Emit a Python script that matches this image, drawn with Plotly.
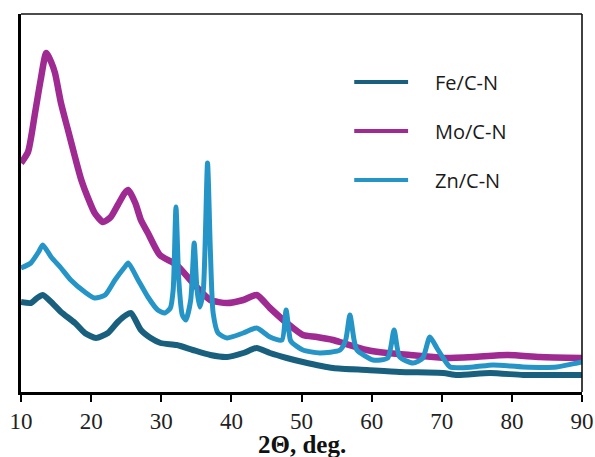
import plotly.graph_objects as go

# Data (2Theta in degrees, intensity in arbitrary units)
fe_x = [10, 11.4, 12.3, 13.1, 14.3, 15.7, 17.7, 19.1, 20.7, 22.4, 23.8, 25.0, 25.7, 27.1, 28.5, 29.9,
        32.2, 34.5, 37, 39.4, 41.7, 43.6, 45.5, 47.9, 50.2, 54.5, 59.3, 64, 70.2, 72.2, 76.9, 81.6, 86, 90]
fe_y = [90, 89, 94, 97, 90, 80, 69, 59, 54, 59, 70, 77, 79, 62, 54, 49,
        47, 42, 37, 35, 39, 44, 39, 34, 30, 24, 22, 20, 19, 17, 19, 17, 17, 17]

mo_x = [10, 11, 12, 12.8, 13.6, 14.3, 14.85, 15.7, 16.7, 17.7, 18.6, 19.5, 20.5, 21.7, 22.8, 23.8,
        24.8, 25.3, 26.3, 27.1, 28.1, 29.8, 32.2, 34.5, 37, 39.4, 41.7, 43.6, 45.5, 47.9, 50.2, 52.2,
        54.5, 55.9, 59.3, 62.2, 65.5, 68.8, 70.5, 74.5, 79.3, 84, 90]
mo_y = [229, 240, 279, 312, 339, 330, 319, 289, 262, 235, 212, 195, 179, 170, 175, 187,
        199, 202, 189, 172, 159, 137, 127, 109, 92, 89, 92, 97, 84, 69, 57, 55,
        52, 49, 42, 39, 37, 35, 34, 35, 37, 35, 34]

zn_x = [10, 11.4, 12.5, 13.1, 14.3, 15.7, 17.1, 19.1, 20.5, 22, 23.4, 24.8, 25.3, 26.7, 28.1, 29.5,
        30.5, 31.3, 31.7, 32.1, 32.5, 33.0, 33.5, 34.2, 34.7, 35.1, 35.5, 36.0, 36.6, 37.0, 37.4, 38.1,
        39.4, 41.7, 43.6, 45.5, 47.2, 47.8, 48.4, 48.7, 50.2, 52.6, 55.5, 56.3, 56.9, 57.5, 57.9, 60.2,
        62.3, 63.2, 64, 65.9, 67.3, 68.3, 69.3, 70.2, 71.2, 74.5, 77.3, 81.6, 86.4, 89.3, 90]
zn_y = [124, 129, 140, 147, 135, 124, 112, 100, 94, 97, 112, 125, 129, 112, 95, 82,
        79, 84, 102, 185, 112, 77, 72, 92, 149, 102, 85, 102, 229, 142, 79, 59,
        54, 59, 64, 55, 52, 82, 52, 49, 42, 39, 42, 52, 77, 52, 42, 32,
        34, 62, 35, 29, 34, 55, 44, 34, 25, 25, 27, 25, 25, 29, 30]

names = ["Fe/C-N", "Mo/C-N", "Zn/C-N"]
colors = ["#19607f", "#9e2a92", "#2594c6"]
widths = [6, 6.5, 5]
xticks = [10, 20, 30, 40, 50, 60, 70, 80, 90]
x_title = "<b>2Θ, deg.</b>"

SERIF = "Liberation Serif, Times New Roman, serif"

fig = go.Figure()
for xs, ys, nm, col, w in zip([fe_x, mo_x, zn_x], [fe_y, mo_y, zn_y], names, colors, widths):
    fig.add_trace(go.Scatter(x=xs, y=ys, mode="lines", name=nm,
                             line=dict(color=col, width=w, shape="spline", smoothing=0.6),
                             showlegend=False))

# manual legend (long line samples as in the reference)
leg_y = [310, 261, 212]
for nm, col, ly in zip(names, colors, leg_y):
    fig.add_shape(type="line", xref="paper", yref="y", x0=0.594, x1=0.69, y0=ly, y1=ly,
                  line=dict(color=col, width=4))
    fig.add_annotation(xref="paper", yref="y", x=0.735, y=ly, text=nm, showarrow=False,
                       xanchor="left", yanchor="middle",
                       font=dict(family="Open Sans", size=20, color="#1a1a1a"))

# x-axis title as annotation (precise placement)
fig.add_annotation(xref="paper", yref="paper", x=0.5, y=0, yshift=-38, text=x_title,
                   showarrow=False, xanchor="center", yanchor="top", borderpad=0,
                   font=dict(family=SERIF, size=25, color="#111"))

# thin top and right frame lines
fig.add_shape(type="line", xref="paper", yref="paper", x0=0, x1=1, y0=1, y1=1,
              line=dict(color="#111", width=1.6))
fig.add_shape(type="line", xref="paper", yref="paper", x0=1, x1=1, y0=0, y1=1,
              line=dict(color="#111", width=1.6))

fig.update_layout(
    width=595, height=457,
    margin=dict(l=21, r=13, t=14, b=65),
    paper_bgcolor="white", plot_bgcolor="white",
    xaxis=dict(range=[10, 90], tickvals=xticks, ticktext=[str(v) for v in xticks],
               automargin=False,
               showgrid=False, zeroline=False, showline=True, linecolor="#000", linewidth=2.5,
               ticks="outside", ticklen=7, tickwidth=1.5, tickcolor="#000",
               ticklabelstandoff=0,
               tickfont=dict(family=SERIF, size=23, color="#222")),
    yaxis=dict(range=[0, 378], showticklabels=False, ticks="", showgrid=False, zeroline=False,
               automargin=False,
               showline=True, linecolor="#000", linewidth=2.5),
)

fig.write_html("out.html")
